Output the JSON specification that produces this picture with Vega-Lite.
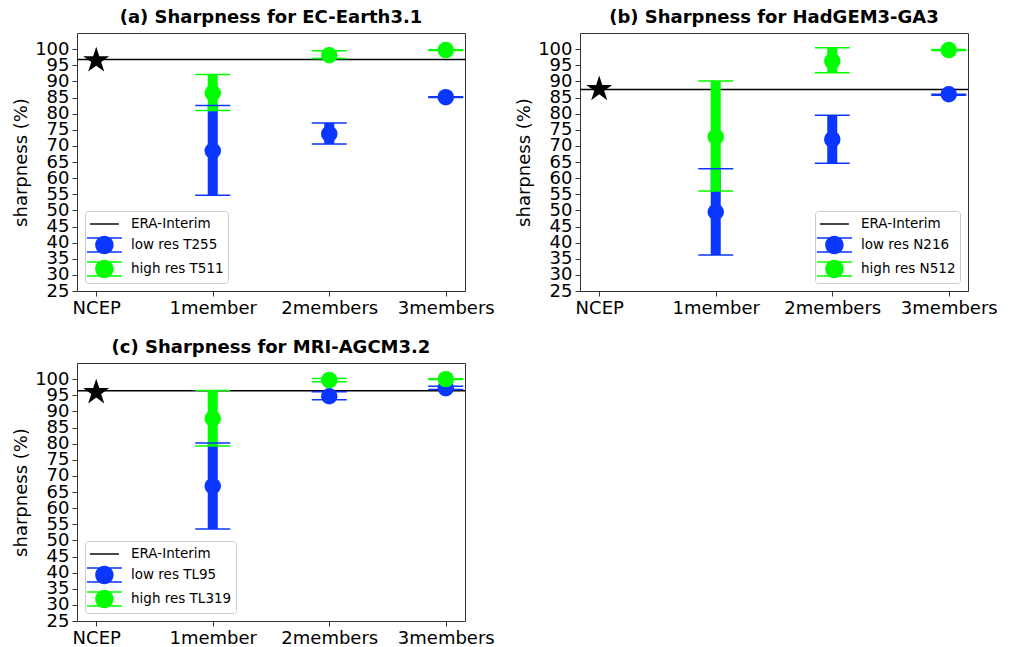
{
  "$schema": "https://vega.github.io/schema/vega-lite/v6.json",
  "background": "white",
  "padding": {"left": 12, "top": 8, "right": 5, "bottom": 0},
  "config": {
    "font": "DejaVu Sans",
    "view": {"stroke": "#333", "strokeWidth": 1},
    "title": {"font": "DejaVu Sans", "fontSize": 18, "fontWeight": "bold", "color": "black", "offset": 6, "anchor": "middle"},
    "axis": {"labelFont": "DejaVu Sans", "labelFontSize": 18, "labelColor": "black", "tickColor": "#333", "tickSize": 5, "grid": false, "domain": false, "titleFont": "DejaVu Sans", "titleFontSize": 18, "titleFontWeight": "normal", "titleColor": "black", "labelOverlap": false, "labelFlush": false},
    "axisX": {"title": null, "labelAngle": 0, "labelPadding": 3},
    "axisY": {"labelPadding": 3, "titlePadding": 4},
    "legend": {"title": null, "offset": 8, "padding": 4, "rowPadding": 4, "symbolSize": 256, "labelOffset": 24, "labelFontSize": 13.5, "labelFont": "DejaVu Sans", "labelColor": "black", "strokeColor": "#cccccc", "fillColor": "rgba(255,255,255,0.8)", "cornerRadius": 3}
  },
  "datasets": {
    "points": [
      {"panel": "a", "cat": "1member", "series": "low res T255", "value": 68.5, "lo": 54.7, "hi": 82.5},
      {"panel": "a", "cat": "2members", "series": "low res T255", "value": 73.7, "lo": 70.6, "hi": 77.1},
      {"panel": "a", "cat": "3members", "series": "low res T255", "value": 85.1, "lo": 85.0, "hi": 85.2},
      {"panel": "a", "cat": "1member", "series": "high res T511", "value": 86.4, "lo": 81.0, "hi": 92.1},
      {"panel": "a", "cat": "2members", "series": "high res T511", "value": 98.1, "lo": 97.1, "hi": 99.5},
      {"panel": "a", "cat": "3members", "series": "high res T511", "value": 99.7, "lo": 99.6, "hi": 99.8},
      {"panel": "b", "cat": "1member", "series": "low res N216", "value": 49.5, "lo": 36.2, "hi": 62.9},
      {"panel": "b", "cat": "2members", "series": "low res N216", "value": 72.0, "lo": 64.6, "hi": 79.5},
      {"panel": "b", "cat": "3members", "series": "low res N216", "value": 86.0, "lo": 85.7, "hi": 86.0},
      {"panel": "b", "cat": "1member", "series": "high res N512", "value": 72.8, "lo": 56.0, "hi": 90.1},
      {"panel": "b", "cat": "2members", "series": "high res N512", "value": 96.3, "lo": 92.7, "hi": 100.4},
      {"panel": "b", "cat": "3members", "series": "high res N512", "value": 99.7, "lo": 99.6, "hi": 99.9},
      {"panel": "c", "cat": "1member", "series": "low res TL95", "value": 66.8, "lo": 53.5, "hi": 80.2},
      {"panel": "c", "cat": "2members", "series": "low res TL95", "value": 94.7, "lo": 93.6, "hi": 96.1},
      {"panel": "c", "cat": "3members", "series": "low res TL95", "value": 97.2, "lo": 96.8, "hi": 97.8},
      {"panel": "c", "cat": "1member", "series": "high res TL319", "value": 87.8, "lo": 79.3, "hi": 96.5},
      {"panel": "c", "cat": "2members", "series": "high res TL319", "value": 99.7, "lo": 99.2, "hi": 100.2},
      {"panel": "c", "cat": "3members", "series": "high res TL319", "value": 100.0, "lo": 99.9, "hi": 100.1}
    ],
    "refs": [
      {"panel": "a", "cat": "NCEP", "ncep": 96.5, "era": 96.8},
      {"panel": "b", "cat": "NCEP", "ncep": 87.6, "era": 87.5},
      {"panel": "c", "cat": "NCEP", "ncep": 95.9, "era": 96.4}
    ],
    "legend": [
      {"panel": "a", "series": "ERA-Interim"},
      {"panel": "b", "series": "ERA-Interim"},
      {"panel": "c", "series": "ERA-Interim"}
    ]
  },
  "columns": 2,
  "spacing": {"row": 20, "column": 20},
  "resolve": {
    "scale": {"color": "independent", "shape": "independent", "fill": "independent", "stroke": "independent", "x": "independent", "y": "independent"},
    "legend": {"color": "independent", "shape": "independent"}
  },
  "concat": [
    {
      "width": 388, "height": 258,
      "title": "(a) Sharpness for EC-Earth3.1",
      "layer": [
        {"data": {"name": "refs"}, "transform": [{"filter": "datum.panel == 'a'"}],
         "mark": {"type": "rule", "color": "black", "strokeWidth": 1.5},
         "encoding": {"y": {"field": "era", "type": "quantitative", "scale": {"domain": [25, 105], "nice": false, "zero": false}, "title": "sharpness (%)", "axis": {"values": [25,30,35,40,45,50,55,60,65,70,75,80,85,90,95,100]}}}},
        {"data": {"name": "refs"}, "transform": [{"filter": "datum.panel == 'a'"}],
         "mark": {"type": "point", "shape": "M0,-1L0.2245,-0.309L0.951,-0.309L0.363,0.118L0.588,0.809L0,0.382L-0.588,0.809L-0.363,0.118L-0.951,-0.309L-0.2245,-0.309Z", "filled": true, "color": "black", "size": 747, "opacity": 1},
         "encoding": {
           "x": {"field": "cat", "type": "nominal", "scale": {"type": "point", "domain": ["NCEP", "1member", "2members", "3members"], "padding": 0.165}, "title": null},
           "y": {"field": "ncep", "type": "quantitative", "scale": {"domain": [25, 105], "nice": false, "zero": false}, "title": "sharpness (%)", "axis": {"values": [25,30,35,40,45,50,55,60,65,70,75,80,85,90,95,100]}}}},
        {"data": {"name": "points"}, "transform": [{"filter": "datum.panel == 'a'"}],
         "mark": {"type": "rule", "strokeWidth": 10, "opacity": 1},
         "encoding": {
           "x": {"field": "cat", "type": "nominal", "scale": {"type": "point", "domain": ["NCEP", "1member", "2members", "3members"], "padding": 0.165}, "title": null},
           "y": {"field": "lo", "type": "quantitative", "scale": {"domain": [25, 105], "nice": false, "zero": false}, "title": "sharpness (%)", "axis": {"values": [25,30,35,40,45,50,55,60,65,70,75,80,85,90,95,100]}},
           "y2": {"field": "hi"},
           "stroke": {"field": "series", "type": "nominal", "scale": {"domain": ["low res T255", "high res T511"], "range": ["#0a36ff", "#00ff00"]}, "legend": null}}},
        {"data": {"name": "points"}, "transform": [{"filter": "datum.panel == 'a'"}],
         "mark": {"type": "tick", "thickness": 1.5, "size": 35, "opacity": 1},
         "encoding": {
           "x": {"field": "cat", "type": "nominal", "scale": {"type": "point", "domain": ["NCEP", "1member", "2members", "3members"], "padding": 0.165}, "title": null},
           "y": {"field": "lo", "type": "quantitative", "scale": {"domain": [25, 105], "nice": false, "zero": false}, "title": "sharpness (%)", "axis": {"values": [25,30,35,40,45,50,55,60,65,70,75,80,85,90,95,100]}},
           "fill": {"field": "series", "type": "nominal", "scale": {"domain": ["low res T255", "high res T511"], "range": ["#0a36ff", "#00ff00"]}, "legend": null}}},
        {"data": {"name": "points"}, "transform": [{"filter": "datum.panel == 'a'"}],
         "mark": {"type": "tick", "thickness": 1.5, "size": 35, "opacity": 1},
         "encoding": {
           "x": {"field": "cat", "type": "nominal", "scale": {"type": "point", "domain": ["NCEP", "1member", "2members", "3members"], "padding": 0.165}, "title": null},
           "y": {"field": "hi", "type": "quantitative", "scale": {"domain": [25, 105], "nice": false, "zero": false}, "title": "sharpness (%)", "axis": {"values": [25,30,35,40,45,50,55,60,65,70,75,80,85,90,95,100]}},
           "fill": {"field": "series", "type": "nominal", "scale": {"domain": ["low res T255", "high res T511"], "range": ["#0a36ff", "#00ff00"]}, "legend": null}}},
        {"data": {"name": "points"}, "transform": [{"filter": "datum.panel == 'a'"}],
         "mark": {"type": "point", "shape": "circle", "filled": true, "size": 272, "opacity": 1},
         "encoding": {
           "x": {"field": "cat", "type": "nominal", "scale": {"type": "point", "domain": ["NCEP", "1member", "2members", "3members"], "padding": 0.165}, "title": null},
           "y": {"field": "value", "type": "quantitative", "scale": {"domain": [25, 105], "nice": false, "zero": false}, "title": "sharpness (%)", "axis": {"values": [25,30,35,40,45,50,55,60,65,70,75,80,85,90,95,100]}},
           "fill": {"field": "series", "type": "nominal", "scale": {"domain": ["low res T255", "high res T511"], "range": ["#0a36ff", "#00ff00"]}, "legend": null}}},
        {"data": {"name": "legend"}, "transform": [{"filter": "false"}],
         "mark": {"type": "point", "filled": true, "size": 256, "opacity": 1, "strokeWidth": 0},
         "encoding": {
           "color": {"field": "series", "type": "nominal", "scale": {"domain": ["ERA-Interim", "low res T255", "high res T511"], "range": ["black", "#0a36ff", "#00ff00"]}, "legend": {"orient": "bottom-left"}},
           "shape": {"field": "series", "type": "nominal", "scale": {"domain": ["ERA-Interim", "low res T255", "high res T511"], "range": [
             "M-1.01,-0.09L-1.01,0.09L2.61,0.09L2.61,-0.09Z",
             "M-0.35,0A1.15,1.15 0 1 0 1.95,0A1.15,1.15 0 1 0 -0.35,0ZM-1.39,-0.955L-1.39,-0.795L2.99,-0.795L2.99,-0.955ZM-1.39,0.795L-1.39,0.955L2.99,0.955L2.99,0.795Z",
             "M-0.35,0A1.15,1.15 0 1 0 1.95,0A1.15,1.15 0 1 0 -0.35,0ZM-1.39,-0.955L-1.39,-0.795L2.99,-0.795L2.99,-0.955ZM-1.39,0.795L-1.39,0.955L2.99,0.955L2.99,0.795Z"]}, "legend": {"orient": "bottom-left"}}}}
      ]
    },
    {
      "width": 388, "height": 258,
      "title": "(b) Sharpness for HadGEM3-GA3",
      "layer": [
        {"data": {"name": "refs"}, "transform": [{"filter": "datum.panel == 'b'"}],
         "mark": {"type": "rule", "color": "black", "strokeWidth": 1.5},
         "encoding": {"y": {"field": "era", "type": "quantitative", "scale": {"domain": [25, 105], "nice": false, "zero": false}, "title": "sharpness (%)", "axis": {"values": [25,30,35,40,45,50,55,60,65,70,75,80,85,90,95,100]}}}},
        {"data": {"name": "refs"}, "transform": [{"filter": "datum.panel == 'b'"}],
         "mark": {"type": "point", "shape": "M0,-1L0.2245,-0.309L0.951,-0.309L0.363,0.118L0.588,0.809L0,0.382L-0.588,0.809L-0.363,0.118L-0.951,-0.309L-0.2245,-0.309Z", "filled": true, "color": "black", "size": 747, "opacity": 1},
         "encoding": {
           "x": {"field": "cat", "type": "nominal", "scale": {"type": "point", "domain": ["NCEP", "1member", "2members", "3members"], "padding": 0.165}, "title": null},
           "y": {"field": "ncep", "type": "quantitative", "scale": {"domain": [25, 105], "nice": false, "zero": false}, "title": "sharpness (%)", "axis": {"values": [25,30,35,40,45,50,55,60,65,70,75,80,85,90,95,100]}}}},
        {"data": {"name": "points"}, "transform": [{"filter": "datum.panel == 'b'"}],
         "mark": {"type": "rule", "strokeWidth": 10, "opacity": 1},
         "encoding": {
           "x": {"field": "cat", "type": "nominal", "scale": {"type": "point", "domain": ["NCEP", "1member", "2members", "3members"], "padding": 0.165}, "title": null},
           "y": {"field": "lo", "type": "quantitative", "scale": {"domain": [25, 105], "nice": false, "zero": false}, "title": "sharpness (%)", "axis": {"values": [25,30,35,40,45,50,55,60,65,70,75,80,85,90,95,100]}},
           "y2": {"field": "hi"},
           "stroke": {"field": "series", "type": "nominal", "scale": {"domain": ["low res N216", "high res N512"], "range": ["#0a36ff", "#00ff00"]}, "legend": null}}},
        {"data": {"name": "points"}, "transform": [{"filter": "datum.panel == 'b'"}],
         "mark": {"type": "tick", "thickness": 1.5, "size": 35, "opacity": 1},
         "encoding": {
           "x": {"field": "cat", "type": "nominal", "scale": {"type": "point", "domain": ["NCEP", "1member", "2members", "3members"], "padding": 0.165}, "title": null},
           "y": {"field": "lo", "type": "quantitative", "scale": {"domain": [25, 105], "nice": false, "zero": false}, "title": "sharpness (%)", "axis": {"values": [25,30,35,40,45,50,55,60,65,70,75,80,85,90,95,100]}},
           "fill": {"field": "series", "type": "nominal", "scale": {"domain": ["low res N216", "high res N512"], "range": ["#0a36ff", "#00ff00"]}, "legend": null}}},
        {"data": {"name": "points"}, "transform": [{"filter": "datum.panel == 'b'"}],
         "mark": {"type": "tick", "thickness": 1.5, "size": 35, "opacity": 1},
         "encoding": {
           "x": {"field": "cat", "type": "nominal", "scale": {"type": "point", "domain": ["NCEP", "1member", "2members", "3members"], "padding": 0.165}, "title": null},
           "y": {"field": "hi", "type": "quantitative", "scale": {"domain": [25, 105], "nice": false, "zero": false}, "title": "sharpness (%)", "axis": {"values": [25,30,35,40,45,50,55,60,65,70,75,80,85,90,95,100]}},
           "fill": {"field": "series", "type": "nominal", "scale": {"domain": ["low res N216", "high res N512"], "range": ["#0a36ff", "#00ff00"]}, "legend": null}}},
        {"data": {"name": "points"}, "transform": [{"filter": "datum.panel == 'b'"}],
         "mark": {"type": "point", "shape": "circle", "filled": true, "size": 272, "opacity": 1},
         "encoding": {
           "x": {"field": "cat", "type": "nominal", "scale": {"type": "point", "domain": ["NCEP", "1member", "2members", "3members"], "padding": 0.165}, "title": null},
           "y": {"field": "value", "type": "quantitative", "scale": {"domain": [25, 105], "nice": false, "zero": false}, "title": "sharpness (%)", "axis": {"values": [25,30,35,40,45,50,55,60,65,70,75,80,85,90,95,100]}},
           "fill": {"field": "series", "type": "nominal", "scale": {"domain": ["low res N216", "high res N512"], "range": ["#0a36ff", "#00ff00"]}, "legend": null}}},
        {"data": {"name": "legend"}, "transform": [{"filter": "false"}],
         "mark": {"type": "point", "filled": true, "size": 256, "opacity": 1, "strokeWidth": 0},
         "encoding": {
           "color": {"field": "series", "type": "nominal", "scale": {"domain": ["ERA-Interim", "low res N216", "high res N512"], "range": ["black", "#0a36ff", "#00ff00"]}, "legend": {"orient": "bottom-right"}},
           "shape": {"field": "series", "type": "nominal", "scale": {"domain": ["ERA-Interim", "low res N216", "high res N512"], "range": [
             "M-1.01,-0.09L-1.01,0.09L2.61,0.09L2.61,-0.09Z",
             "M-0.35,0A1.15,1.15 0 1 0 1.95,0A1.15,1.15 0 1 0 -0.35,0ZM-1.39,-0.955L-1.39,-0.795L2.99,-0.795L2.99,-0.955ZM-1.39,0.795L-1.39,0.955L2.99,0.955L2.99,0.795Z",
             "M-0.35,0A1.15,1.15 0 1 0 1.95,0A1.15,1.15 0 1 0 -0.35,0ZM-1.39,-0.955L-1.39,-0.795L2.99,-0.795L2.99,-0.955ZM-1.39,0.795L-1.39,0.955L2.99,0.955L2.99,0.795Z"]}, "legend": {"orient": "bottom-right"}}}}
      ]
    },
    {
      "width": 388, "height": 258,
      "title": "(c) Sharpness for MRI-AGCM3.2",
      "layer": [
        {"data": {"name": "refs"}, "transform": [{"filter": "datum.panel == 'c'"}],
         "mark": {"type": "rule", "color": "black", "strokeWidth": 1.5},
         "encoding": {"y": {"field": "era", "type": "quantitative", "scale": {"domain": [25, 105], "nice": false, "zero": false}, "title": "sharpness (%)", "axis": {"values": [25,30,35,40,45,50,55,60,65,70,75,80,85,90,95,100]}}}},
        {"data": {"name": "refs"}, "transform": [{"filter": "datum.panel == 'c'"}],
         "mark": {"type": "point", "shape": "M0,-1L0.2245,-0.309L0.951,-0.309L0.363,0.118L0.588,0.809L0,0.382L-0.588,0.809L-0.363,0.118L-0.951,-0.309L-0.2245,-0.309Z", "filled": true, "color": "black", "size": 747, "opacity": 1},
         "encoding": {
           "x": {"field": "cat", "type": "nominal", "scale": {"type": "point", "domain": ["NCEP", "1member", "2members", "3members"], "padding": 0.165}, "title": null},
           "y": {"field": "ncep", "type": "quantitative", "scale": {"domain": [25, 105], "nice": false, "zero": false}, "title": "sharpness (%)", "axis": {"values": [25,30,35,40,45,50,55,60,65,70,75,80,85,90,95,100]}}}},
        {"data": {"name": "points"}, "transform": [{"filter": "datum.panel == 'c'"}],
         "mark": {"type": "rule", "strokeWidth": 10, "opacity": 1},
         "encoding": {
           "x": {"field": "cat", "type": "nominal", "scale": {"type": "point", "domain": ["NCEP", "1member", "2members", "3members"], "padding": 0.165}, "title": null},
           "y": {"field": "lo", "type": "quantitative", "scale": {"domain": [25, 105], "nice": false, "zero": false}, "title": "sharpness (%)", "axis": {"values": [25,30,35,40,45,50,55,60,65,70,75,80,85,90,95,100]}},
           "y2": {"field": "hi"},
           "stroke": {"field": "series", "type": "nominal", "scale": {"domain": ["low res TL95", "high res TL319"], "range": ["#0a36ff", "#00ff00"]}, "legend": null}}},
        {"data": {"name": "points"}, "transform": [{"filter": "datum.panel == 'c'"}],
         "mark": {"type": "tick", "thickness": 1.5, "size": 35, "opacity": 1},
         "encoding": {
           "x": {"field": "cat", "type": "nominal", "scale": {"type": "point", "domain": ["NCEP", "1member", "2members", "3members"], "padding": 0.165}, "title": null},
           "y": {"field": "lo", "type": "quantitative", "scale": {"domain": [25, 105], "nice": false, "zero": false}, "title": "sharpness (%)", "axis": {"values": [25,30,35,40,45,50,55,60,65,70,75,80,85,90,95,100]}},
           "fill": {"field": "series", "type": "nominal", "scale": {"domain": ["low res TL95", "high res TL319"], "range": ["#0a36ff", "#00ff00"]}, "legend": null}}},
        {"data": {"name": "points"}, "transform": [{"filter": "datum.panel == 'c'"}],
         "mark": {"type": "tick", "thickness": 1.5, "size": 35, "opacity": 1},
         "encoding": {
           "x": {"field": "cat", "type": "nominal", "scale": {"type": "point", "domain": ["NCEP", "1member", "2members", "3members"], "padding": 0.165}, "title": null},
           "y": {"field": "hi", "type": "quantitative", "scale": {"domain": [25, 105], "nice": false, "zero": false}, "title": "sharpness (%)", "axis": {"values": [25,30,35,40,45,50,55,60,65,70,75,80,85,90,95,100]}},
           "fill": {"field": "series", "type": "nominal", "scale": {"domain": ["low res TL95", "high res TL319"], "range": ["#0a36ff", "#00ff00"]}, "legend": null}}},
        {"data": {"name": "points"}, "transform": [{"filter": "datum.panel == 'c'"}],
         "mark": {"type": "point", "shape": "circle", "filled": true, "size": 272, "opacity": 1},
         "encoding": {
           "x": {"field": "cat", "type": "nominal", "scale": {"type": "point", "domain": ["NCEP", "1member", "2members", "3members"], "padding": 0.165}, "title": null},
           "y": {"field": "value", "type": "quantitative", "scale": {"domain": [25, 105], "nice": false, "zero": false}, "title": "sharpness (%)", "axis": {"values": [25,30,35,40,45,50,55,60,65,70,75,80,85,90,95,100]}},
           "fill": {"field": "series", "type": "nominal", "scale": {"domain": ["low res TL95", "high res TL319"], "range": ["#0a36ff", "#00ff00"]}, "legend": null}}},
        {"data": {"name": "legend"}, "transform": [{"filter": "false"}],
         "mark": {"type": "point", "filled": true, "size": 256, "opacity": 1, "strokeWidth": 0},
         "encoding": {
           "color": {"field": "series", "type": "nominal", "scale": {"domain": ["ERA-Interim", "low res TL95", "high res TL319"], "range": ["black", "#0a36ff", "#00ff00"]}, "legend": {"orient": "bottom-left"}},
           "shape": {"field": "series", "type": "nominal", "scale": {"domain": ["ERA-Interim", "low res TL95", "high res TL319"], "range": [
             "M-1.01,-0.09L-1.01,0.09L2.61,0.09L2.61,-0.09Z",
             "M-0.35,0A1.15,1.15 0 1 0 1.95,0A1.15,1.15 0 1 0 -0.35,0ZM-1.39,-0.955L-1.39,-0.795L2.99,-0.795L2.99,-0.955ZM-1.39,0.795L-1.39,0.955L2.99,0.955L2.99,0.795Z",
             "M-0.35,0A1.15,1.15 0 1 0 1.95,0A1.15,1.15 0 1 0 -0.35,0ZM-1.39,-0.955L-1.39,-0.795L2.99,-0.795L2.99,-0.955ZM-1.39,0.795L-1.39,0.955L2.99,0.955L2.99,0.795Z"]}, "legend": {"orient": "bottom-left"}}}}
      ]
    }
  ]
}
